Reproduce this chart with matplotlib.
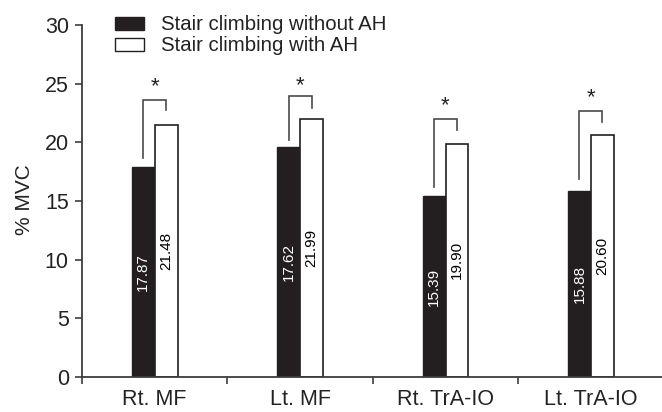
import matplotlib
matplotlib.use("Agg")
import matplotlib.pyplot as plt
from matplotlib.patches import Rectangle

plt.rcParams['font.family'] = ['Liberation Sans', 'DejaVu Sans']

categories = ["Rt. MF", "Lt. MF", "Rt. TrA-IO", "Lt. TrA-IO"]
series_names = ["Stair climbing without AH", "Stair climbing with AH"]
without_ah = [17.87, 19.64, 15.39, 15.88]          # bar heights as drawn
with_ah = [21.48, 21.99, 19.90, 20.60]
without_ah_labels = ["17.87", "17.62", "15.39", "15.88"]  # printed values
with_ah_labels = ["21.48", "21.99", "19.90", "20.60"]
bracket_left_bottom = [18.67, 20.23, 16.19, 16.92]
bracket_top = [23.65, 23.93, 22.03, 22.65]
bracket_right_bottom = [22.73, 22.94, 21.03, 21.71]
star_y = [24.75, 24.85, 23.15, 23.8]
yticks = [0, 5, 10, 15, 20, 25, 30]

W, H = 662, 412
fig = plt.figure(figsize=(W / 100, H / 100), dpi=100)
ax = fig.add_axes([82 / W, 1 - 376.7 / H, 581.6 / W, 351.4 / H])

dark = '#231f20'
axis_col = '#3d3d3d'
bw = 0.157
x = list(range(len(categories)))
xb = [i - bw / 2 for i in x]
xw = [i + bw / 2 for i in x]

ax.bar(xb, without_ah, width=bw, color=dark, edgecolor=dark, linewidth=1.0, zorder=2)
ax.bar(xw, with_ah, width=bw, color='white', edgecolor=dark, linewidth=1.2, zorder=2)

for i in x:
    ax.text(xb[i], without_ah[i] / 2, without_ah_labels[i], rotation=90, ha='center',
            va='center', color='white', fontsize=11, zorder=3)
    ax.text(xw[i], with_ah[i] / 2, with_ah_labels[i], rotation=90, ha='center',
            va='center', color='black', fontsize=11, zorder=3)
    ax.plot([xb[i], xb[i], xw[i], xw[i]],
            [bracket_left_bottom[i], bracket_top[i], bracket_top[i], bracket_right_bottom[i]],
            color='#4a4a4a', lw=1.2, solid_joinstyle='miter', zorder=2)
    ax.text(i, star_y[i], '*', ha='center', va='center', fontsize=16, color='#222222')

ax.set_xlim(-0.5, 3.5)
ax.set_ylim(0, 30)
ax.set_yticks(yticks)
ax.set_yticklabels([str(t) for t in yticks])
ax.set_xticks([-0.5, 0.5, 1.5, 2.5])
ax.set_xticklabels([])
ax.set_xticks(x, minor=True)
ax.set_xticklabels(categories, minor=True)
ax.tick_params(axis='x', which='major', length=5, width=1.2, color=axis_col, direction='out')
ax.tick_params(axis='x', which='minor', length=0, pad=9, labelsize=15.5, labelcolor='#222222')
ax.tick_params(axis='y', length=5, width=1.2, color=axis_col, pad=4.5, labelsize=15.5,
               labelcolor='#222222')
for s in ['top', 'right']:
    ax.spines[s].set_visible(False)
for s in ['left', 'bottom']:
    ax.spines[s].set_color(axis_col)
    ax.spines[s].set_linewidth(1.3)

fig.text(25 / W, 1 - 200 / H, '% MVC', rotation=90, ha='center', va='center',
         fontsize=15, color='#222222')

# legend
fig.patches.append(Rectangle((115 / W, 1 - 30 / H), 29 / W, 12.7 / H, transform=fig.transFigure,
                             facecolor=dark, edgecolor=dark, lw=1.0))
fig.patches.append(Rectangle((115 / W, 1 - 50.5 / H), 29 / W, 12.5 / H, transform=fig.transFigure,
                             facecolor='white', edgecolor=dark, lw=1.0))
fig.text(161 / W, 1 - 30 / H, series_names[0], ha='left', va='baseline', fontsize=14.7,
         color='#222222')
fig.text(161 / W, 1 - 50.7 / H, series_names[1], ha='left', va='baseline', fontsize=14.7,
         color='#222222')

fig.savefig('out.png', dpi=100)
